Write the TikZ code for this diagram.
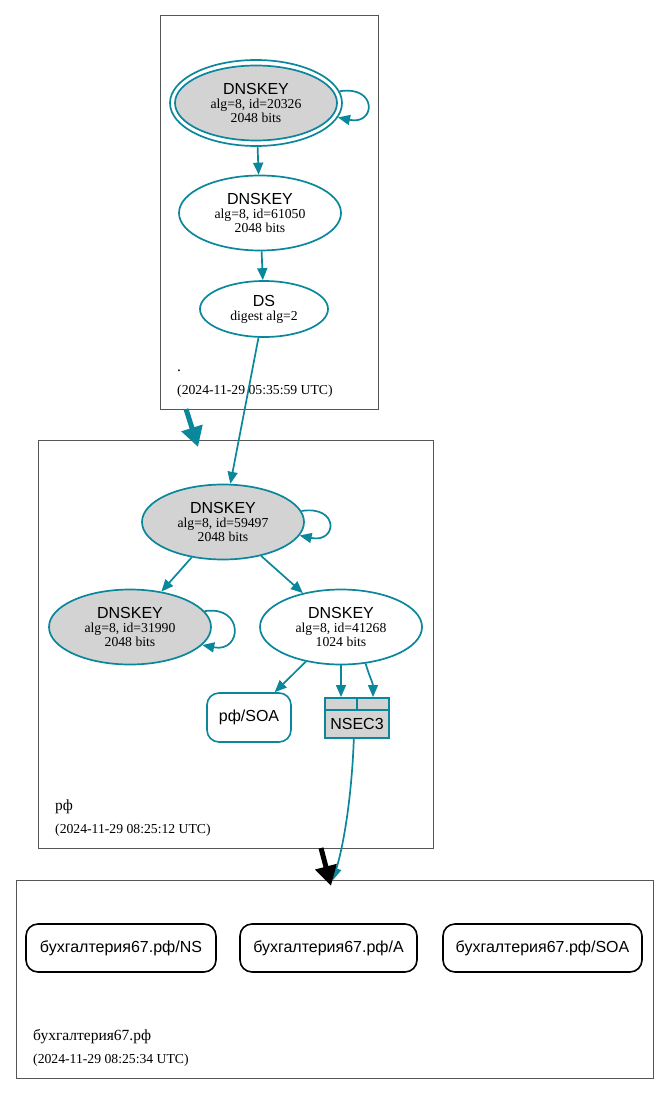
\documentclass[tikz,border=0pt]{standalone}
\usepackage{fontspec}
\setmainfont{Liberation Serif}
\newfontfamily\sansf{Liberation Sans}
\usetikzlibrary{shapes.geometric,arrows.meta}
\definecolor{sec}{HTML}{0A879A}
\definecolor{kgray}{HTML}{D3D3D3}
\definecolor{cl}{HTML}{555555}
\newcommand{\keylab}[2]{{\sansf\fontsize{16}{16}\selectfont DNSKEY}\\alg=8, id=#1\\#2 bits}
\begin{document}
\begin{tikzpicture}[x=1pt,y=-1pt,
  key/.style={ellipse, draw=sec, line width=1.7pt, inner sep=0pt, minimum width=162pt, minimum height=75pt, align=center, font=\fontsize{13.7}{14}\selectfont},
  ksep/.style={key, fill=kgray},
  e/.style={draw=sec, line width=1.7pt, -{Triangle[length=12pt,width=10pt]}},
  rr/.style={rectangle, rounded corners=12pt, draw, line width=1.6pt, font=\sansf\fontsize{16}{16}\selectfont, inner sep=0pt, minimum height=48pt},
  nsc/.style={rectangle, draw=sec, fill=kgray, line width=2pt, inner sep=0pt},
  cluster/.style={draw=cl, line width=1pt, inner sep=0pt},
  zl/.style={anchor=base west, inner sep=0pt, font=\fontsize{13.7}{14}\selectfont},
  zn/.style={anchor=base west, inner sep=0pt, font=\fontsize{15.5}{16}\selectfont},
  deleg/.style={line width=5pt, -{Triangle[length=20pt,width=21pt]}}
]
\useasboundingbox (0,0) rectangle (669,1094);

% clusters
\node[cluster, minimum width=218pt, minimum height=393pt] (c1) at (269,212.5) {};
\node[cluster, minimum width=395pt, minimum height=408pt] (c2) at (235.5,644) {};
\node[cluster, minimum width=637pt, minimum height=198pt] (c3) at (334.5,979) {};

% root zone
\node[key, minimum width=172pt, minimum height=86pt] (k1) at (256,103) {};
\node[ksep] (k1i) at (256,103) {\keylab{20326}{2048}};
\node[key] (k2) at (260,213) {\keylab{61050}{2048}};
\node[key, minimum width=128pt, minimum height=56pt] (ds) at (264,309) {{\sansf\fontsize{16}{16}\selectfont DS}\\digest alg=2};
\node[zn] (n1) at (177,371) {.};
\node[zl] (d1) at (177,394) {(2024-11-29 05:35:59 UTC)};

% rf zone
\node[ksep] (k3) at (223,522) {\keylab{59497}{2048}};
\node[ksep] (k4) at (130,627) {\keylab{31990}{2048}};
\node[key] (k5) at (341,627) {\keylab{41268}{1024}};
\node[rr, draw=sec, minimum width=84pt, minimum height=49pt] (soa1) at (249,717.5) {рф/SOA};
\node[nsc, minimum width=32pt, minimum height=12pt] (nc1) at (341,704) {};
\node[nsc, minimum width=32pt, minimum height=12pt] (nc2) at (373,704) {};
\node[nsc, minimum width=64pt, minimum height=28pt, font=\sansf\fontsize{16}{16}\selectfont] (nl) at (357,724) {NSEC3};
\node[zn] (n2) at (55,810) {рф};
\node[zl] (d2) at (55,833) {(2024-11-29 08:25:12 UTC)};

% child zone
\node[rr, minimum width=190pt] (ns) at (121,948) {бухгалтерия67.рф/NS};
\node[rr, minimum width=177pt] (a) at (328.5,948) {бухгалтерия67.рф/A};
\node[rr, minimum width=199pt] (soa2) at (542.5,948) {бухгалтерия67.рф/SOA};
\node[zn] (n3) at (33,1040) {бухгалтерия67.рф};
\node[zl] (d3) at (33,1063) {(2024-11-29 08:25:34 UTC)};

% edges
\draw[e] (k1) -- (k2);
\draw[e] (k2) -- (ds);
\draw[e] (ds) -- (k3);
\draw[e] (k3) -- (k4);
\draw[e] (k3) -- (k5);
\draw[e] (k5) -- (soa1);
\draw[e] (k5) -- (nc1);
\draw[e] (k5.-56) .. controls +(4,14) and +(0,-14) .. (nc2.north);
\draw[e] (k1.8) .. controls +(38,-6) and +(38,8) .. (k1.-10);
\draw[e] (k3.8) .. controls +(38,-6) and +(38,8) .. (k3.-10);
\draw[e] (k4.12) .. controls +(40,-6) and +(40,8) .. (k4.-14);

\coordinate (t3) at (333,880);
\draw[e] (nl.-102) .. controls (352,790) and (345,840) .. (t3);

\coordinate (a1s) at (186,409);
\coordinate (a1e) at (198,447);
\draw[deleg, draw=sec, fill=sec] (a1s) -- (a1e);
\coordinate (a2s) at (321,848);
\coordinate (a2e) at (331,886);
\draw[deleg, draw=black, fill=black] (a2s) -- (a2e);
\end{tikzpicture}
\end{document}
